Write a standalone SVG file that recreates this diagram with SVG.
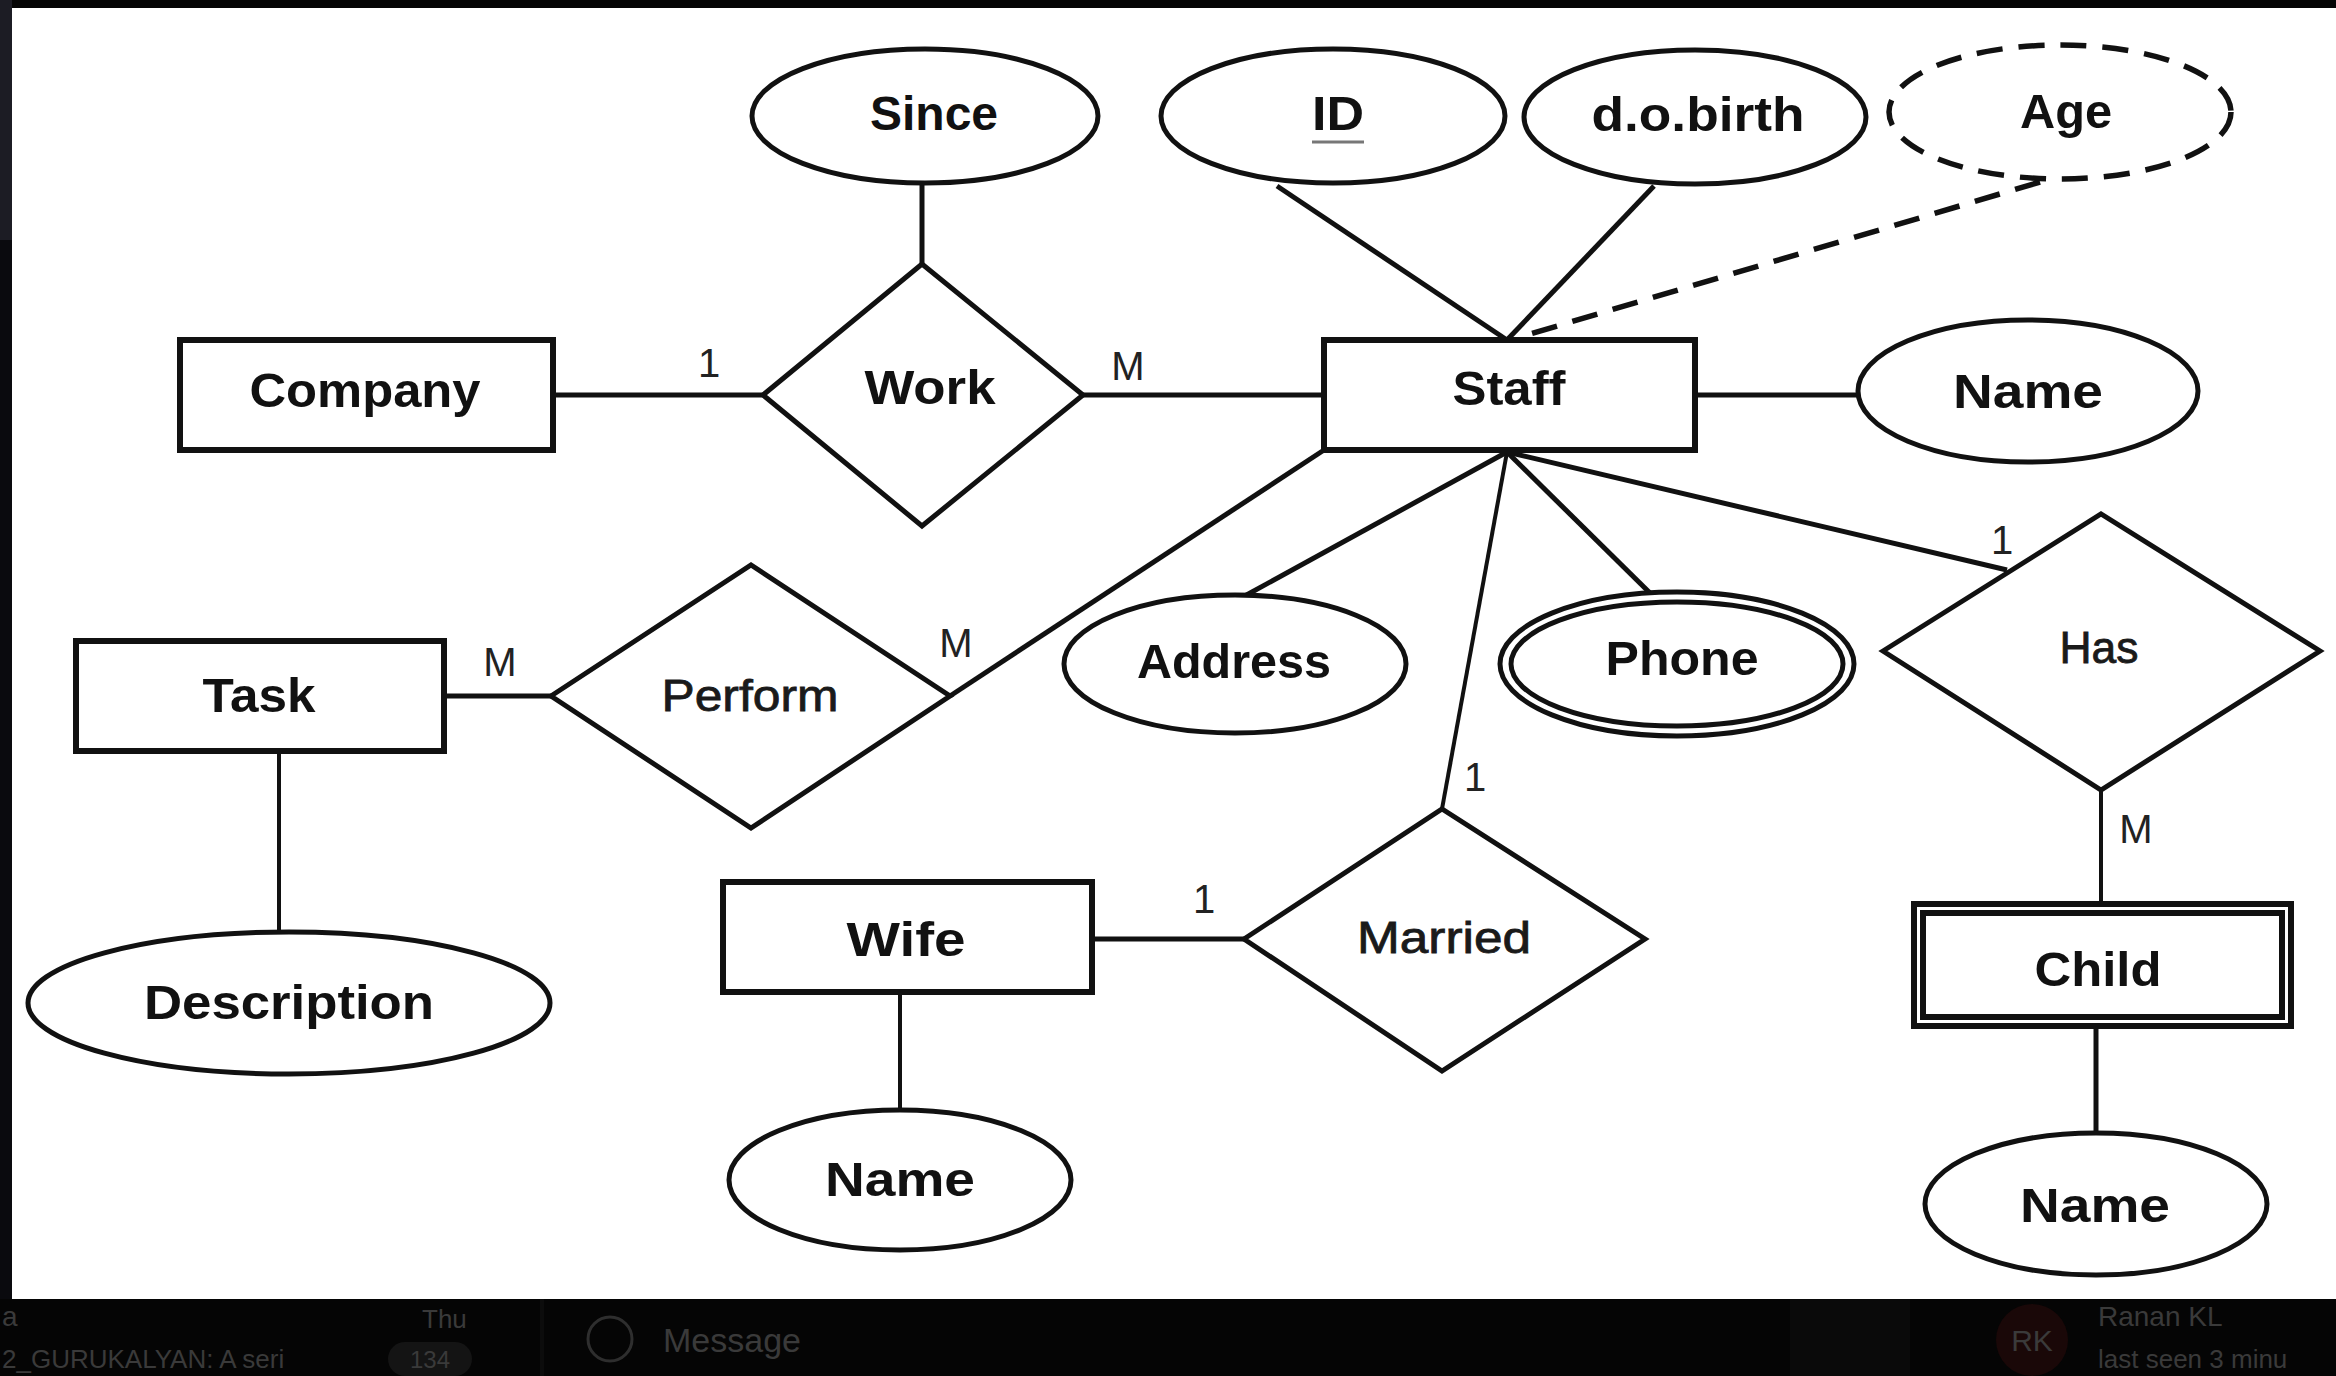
<svg xmlns="http://www.w3.org/2000/svg" width="2336" height="1376" viewBox="0 0 2336 1376">
<style>
.shape{fill:#fff;stroke:#111;stroke-width:5}
.rect{fill:#fff;stroke:#111;stroke-width:6}
.ln{stroke:#111;stroke-width:5;fill:none}
.thin{stroke:#111;stroke-width:4;fill:none}
.dash{stroke:#111;stroke-width:5.5;fill:none;stroke-dasharray:26 16}
.t{font-family:"Liberation Sans",Arial,sans-serif;font-weight:bold;font-size:48px;fill:#111;text-anchor:middle}
.tr{font-family:"Liberation Sans",Arial,sans-serif;font-weight:normal;font-size:44px;fill:#1a1a1a;stroke:#1a1a1a;stroke-width:0.8;text-anchor:middle}
.lab{font-family:"Liberation Sans",Arial,sans-serif;font-size:40px;fill:#222;text-anchor:middle}
.ui{font-family:"Liberation Sans",Arial,sans-serif;fill:#3a3a3a}
</style>
<rect x="0" y="0" width="2336" height="1376" fill="#fff"/>
<rect x="0" y="0" width="2336" height="8" fill="#050505"/>
<rect x="0" y="0" width="12" height="1376" fill="#0a0a0e"/>
<rect x="0" y="0" width="12" height="240" fill="#1c1c24"/>
<rect x="0" y="1299" width="2336" height="77" fill="#050505"/>
<g id="ui-bar">
<text class="ui" x="2" y="1326" font-size="28">a</text>
<text class="ui" x="422" y="1328" font-size="26">Thu</text>
<text class="ui" x="2" y="1368" font-size="26">2_GURUKALYAN: A seri</text>
<rect x="388" y="1342" width="84" height="34" rx="17" fill="#141414"/>
<text class="ui" x="430" y="1368" font-size="24" text-anchor="middle">134</text>
<rect x="540" y="1299" width="4" height="77" fill="#0c0c0c"/>
<circle cx="610" cy="1339" r="22" fill="none" stroke="#2e2e2e" stroke-width="3"/>
<text class="ui" x="663" y="1352" font-size="34">Message</text>
<rect x="1790" y="1299" width="120" height="77" fill="#0a0a0a"/>
<circle cx="2032" cy="1340" r="36" fill="#1a0808"/>
<text class="ui" x="2032" y="1351" font-size="30" text-anchor="middle" fill="#402020">RK</text>
<text class="ui" x="2098" y="1326" font-size="28">Ranan KL</text>
<text class="ui" x="2098" y="1368" font-size="26">last seen 3 minu</text>
</g>
<g id="connectors">
<line class="ln" x1="922" y1="183" x2="922" y2="264"/>
<line class="ln" x1="553" y1="395" x2="763" y2="395" stroke-width="6.5"/>
<line class="ln" x1="1083" y1="395" x2="1324" y2="395" stroke-width="6.5"/>
<line class="ln" x1="1277" y1="186" x2="1507" y2="340"/>
<line class="ln" x1="1654" y1="186" x2="1507" y2="340"/>
<line class="dash" x1="2040" y1="182" x2="1527" y2="335"/>
<line class="ln" x1="1695" y1="395" x2="1858" y2="395" stroke-width="6.5"/>
<line class="ln" x1="1324" y1="450" x2="950" y2="696"/>
<line class="ln" x1="444" y1="696" x2="551" y2="696" stroke-width="6.5"/>
<line class="thin" x1="279" y1="751" x2="279" y2="932"/>
<line class="ln" x1="1507" y1="452" x2="1241" y2="598"/>
<line class="thin" x1="1507" y1="452" x2="1442" y2="809"/>
<line class="ln" x1="1507" y1="452" x2="1651" y2="594"/>
<line class="ln" x1="1507" y1="452" x2="2007" y2="570" stroke-width="5.5"/>
<line class="thin" x1="2101" y1="790" x2="2101" y2="904"/>
<line class="ln" x1="2096" y1="1026" x2="2096" y2="1133"/>
<line class="ln" x1="1092" y1="939" x2="1244" y2="939" stroke-width="5.5"/>
<line class="thin" x1="900" y1="992" x2="900" y2="1110"/>
</g>
<g id="labels">
<text class="lab" x="709" y="377">1</text>
<text class="lab" x="1128" y="380">M</text>
<text class="lab" x="500" y="676">M</text>
<text class="lab" x="956" y="657">M</text>
<text class="lab" x="2002" y="554">1</text>
<text class="lab" x="1475" y="791">1</text>
<text class="lab" x="1204" y="913">1</text>
<text class="lab" x="2136" y="843">M</text>
</g>
<g id="since"><ellipse class="shape" cx="925" cy="116" rx="173" ry="67"/><text class="t" x="934" y="130" textLength="128" lengthAdjust="spacingAndGlyphs">Since</text></g>
<g id="id"><ellipse class="shape" cx="1333" cy="116" rx="172" ry="67"/><text class="t" x="1338" y="130" textLength="52" lengthAdjust="spacingAndGlyphs">ID</text><line x1="1312" y1="142" x2="1364" y2="142" stroke="#777" stroke-width="3"/></g>
<g id="dob"><ellipse class="shape" cx="1695" cy="117" rx="171" ry="67"/><text class="t" x="1698" y="131" textLength="213" lengthAdjust="spacingAndGlyphs">d.o.birth</text></g>
<g id="age"><ellipse class="dash" cx="2060" cy="112" rx="171" ry="67" fill="#fff"/><text class="t" x="2066" y="128" textLength="92" lengthAdjust="spacingAndGlyphs">Age</text></g>
<g id="company"><rect class="rect" x="180" y="340" width="373" height="110"/><text class="t" x="365" y="407" textLength="231" lengthAdjust="spacingAndGlyphs">Company</text></g>
<g id="work"><polygon class="shape" points="763,395 922,264 1083,395 922,526"/><text class="t" x="930" y="404" textLength="131" lengthAdjust="spacingAndGlyphs">Work</text></g>
<g id="staff"><rect class="rect" x="1324" y="340" width="371" height="110"/><text class="t" x="1509" y="405" textLength="113" lengthAdjust="spacingAndGlyphs">Staff</text></g>
<g id="staff-name"><ellipse class="shape" cx="2028" cy="391" rx="170" ry="71"/><text class="t" x="2028" y="408" textLength="150" lengthAdjust="spacingAndGlyphs">Name</text></g>
<g id="task"><rect class="rect" x="76" y="641" width="368" height="110"/><text class="t" x="259" y="712" textLength="113" lengthAdjust="spacingAndGlyphs">Task</text></g>
<g id="perform"><polygon class="shape" points="551,696 751,565 950,696 751,828"/><text class="tr" x="750" y="711" textLength="177" lengthAdjust="spacingAndGlyphs">Perform</text></g>
<g id="address"><ellipse class="shape" cx="1235" cy="664" rx="171" ry="69"/><text class="t" x="1234" y="678" textLength="194" lengthAdjust="spacingAndGlyphs">Address</text></g>
<g id="phone"><ellipse class="shape" cx="1677" cy="664" rx="177" ry="72"/><ellipse class="shape" cx="1677" cy="664" rx="166" ry="62" stroke-width="3.5"/><text class="t" x="1682" y="675" textLength="153" lengthAdjust="spacingAndGlyphs">Phone</text></g>
<g id="has"><polygon class="shape" points="1883,651 2101,514 2320,651 2101,790"/><text class="tr" x="2099" y="663" textLength="79" lengthAdjust="spacingAndGlyphs">Has</text></g>
<g id="married"><polygon class="shape" points="1244,939 1442,809 1645,939 1442,1071"/><text class="tr" x="1444" y="953" textLength="174" lengthAdjust="spacingAndGlyphs">Married</text></g>
<g id="wife"><rect class="rect" x="723" y="882" width="369" height="110"/><text class="t" x="906" y="956" textLength="119" lengthAdjust="spacingAndGlyphs">Wife</text></g>
<g id="child"><rect class="rect" x="1914" y="904" width="377" height="122" stroke-width="4.5"/><rect class="rect" x="1923" y="913" width="359" height="104" stroke-width="3.5"/><text class="t" x="2098" y="986" textLength="127" lengthAdjust="spacingAndGlyphs">Child</text></g>
<g id="description"><ellipse class="shape" cx="289" cy="1003" rx="261" ry="71"/><text class="t" x="289" y="1019" textLength="290" lengthAdjust="spacingAndGlyphs">Description</text></g>
<g id="wife-name"><ellipse class="shape" cx="900" cy="1180" rx="171" ry="70"/><text class="t" x="900" y="1196" textLength="150" lengthAdjust="spacingAndGlyphs">Name</text></g>
<g id="child-name"><ellipse class="shape" cx="2096" cy="1204" rx="171" ry="71"/><text class="t" x="2095" y="1222" textLength="150" lengthAdjust="spacingAndGlyphs">Name</text></g>
</svg>
